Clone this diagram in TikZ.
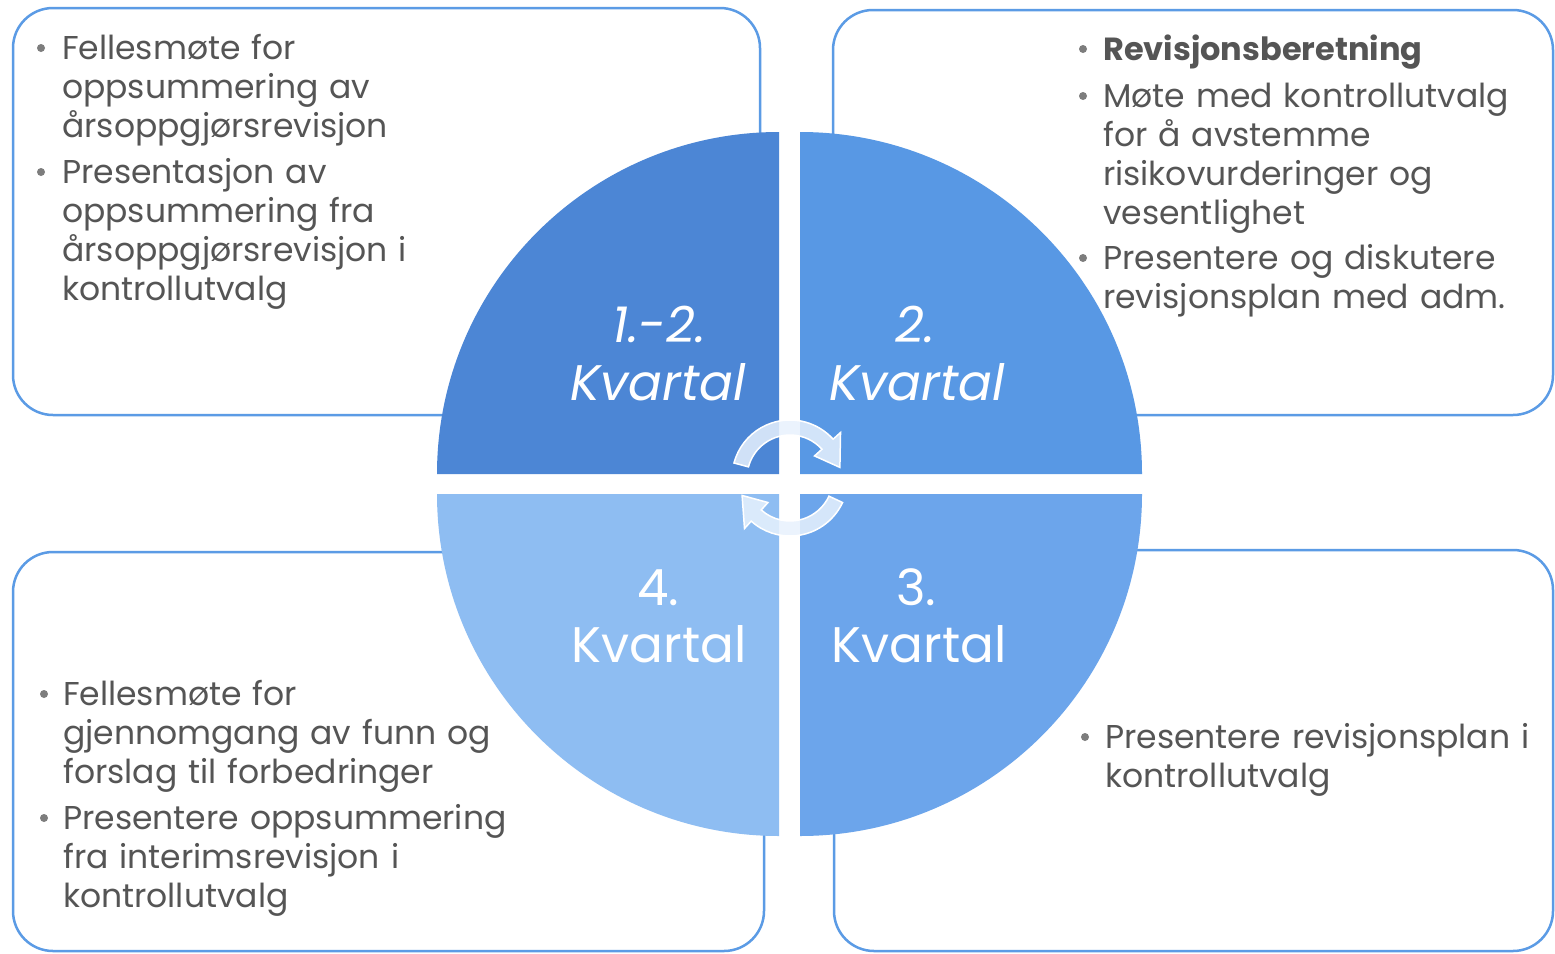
\documentclass[tikz,border=0pt]{standalone}
\usepackage{fontspec}
\setmainfont{Poppins}
\usetikzlibrary{calc}
\definecolor{boxline}{RGB}{91,155,229}
\definecolor{qTL}{RGB}{76,134,213}
\definecolor{qTR}{RGB}{88,152,228}
\definecolor{qBR}{RGB}{108,165,235}
\definecolor{qBL}{RGB}{142,189,242}
\definecolor{txt}{RGB}{85,85,85}
\definecolor{bul}{RGB}{125,125,125}
\definecolor{arrowfill}{RGB}{232,242,253}
\begin{document}
\begin{tikzpicture}[x=1pt,y=-1pt,
  infobox/.style={draw=boxline, line width=2.5pt, rounded corners=40pt},
  itemtext/.style={anchor=north west, inner sep=0pt, text width=#1, align=left, text=txt, font=\fontsize{33}{39}\selectfont},
  bdot/.style={circle, fill=bul, inner sep=0pt, minimum size=8pt},
  qlabel/.style={anchor=base, inner sep=0pt, text=white, font=\fontsize{50}{56}\selectfont},
  cyc/.style={fill=arrowfill, fill opacity=0.85, draw=white, line width=1.5pt}
]
\useasboundingbox[fill=white] (0,0) rectangle (1555,953);

% boxes
\draw[infobox] (13,8) rectangle (760,415);
\draw[infobox] (833,10) rectangle (1553,415);
\draw[infobox] (13,552) rectangle (764,951);
\draw[infobox] (834,550) rectangle (1553,951);

% quadrants
\fill[qTL] (779,474) -- (437,474) arc[start angle=180, end angle=270, radius=342] -- cycle;
\fill[qTR] (800,474) -- (800,132) arc[start angle=270, end angle=360, radius=342] -- cycle;
\fill[qBR] (800,494) -- (1142,494) arc[start angle=0, end angle=90, radius=342] -- cycle;
\fill[qBL] (779,494) -- (779,836) arc[start angle=90, end angle=180, radius=342] -- cycle;

% cycle arrows
\coordinate (cc) at (790,478);
\filldraw[cyc] ($(cc)+(-165:58)$) arc[start angle=-165, end angle=-42, radius=58]
  -- ($(cc)+(-42:68)$) -- ($(cc)+(-12:51)$) -- ($(cc)+(-42:33)$) -- ($(cc)+(-42:43)$)
  arc[start angle=-42, end angle=-165, radius=43] -- cycle;
\filldraw[cyc] ($(cc)+(25:58)$) arc[start angle=25, end angle=132, radius=58]
  -- ($(cc)+(132:68)$) -- ($(cc)+(160:51)$) -- ($(cc)+(132:33)$) -- ($(cc)+(132:43)$)
  arc[start angle=132, end angle=25, radius=43] -- cycle;

% quadrant labels
\node[qlabel] (l1a) at (659,342) {\itshape 1.-2.};
\node[qlabel] (l1b) at (658,400) {\itshape Kvartal};
\node[qlabel] (l2a) at (915,342) {\itshape 2.};
\node[qlabel] (l2b) at (917,400) {\itshape Kvartal};
\node[qlabel] (l4a) at (658,605) {4.};
\node[qlabel] (l4b) at (659,662) {Kvartal};
\node[qlabel] (l3a) at (916,605) {3.};
\node[qlabel] (l3b) at (919,662) {Kvartal};

% top-left texts
\node[bdot] (b1) at (41,48) {};
\node[itemtext=400pt] (t1) at (62,31.7) {\strut Fellesmøte for\\oppsummering av\\årsoppgjørsrevisjon};
\node[bdot] (b2) at (41,172) {};
\node[itemtext=400pt] (t2) at (62,155.7) {\strut Presentasjon av\\oppsummering fra\\årsoppgjørsrevisjon i\\kontrollutvalg};

% top-right texts
\node[bdot] (b3) at (1083,49) {};
\node[itemtext=445pt] (t3) at (1103,32.7) {\fontsize{32}{39}\selectfont\strut\bfseries Revisjonsberetning};
\node[bdot] (b4) at (1083,96) {};
\node[itemtext=445pt] (t4) at (1103,79.7) {\strut Møte med kontrollutvalg\\for å avstemme\\risikovurderinger og\\vesentlighet};
\node[bdot] (b5) at (1083,258) {};
\node[itemtext=445pt] (t5) at (1103,241.7) {\strut Presentere og diskutere\\revisjonsplan med adm.};

% bottom-right text
\node[bdot] (b6) at (1085,737) {};
\node[itemtext=445pt] (t6) at (1105,720.7) {\strut Presentere revisjonsplan i\\kontrollutvalg};

% bottom-left texts
\node[bdot] (b7) at (44,694) {};
\node[itemtext=480pt] (t7) at (63,677.7) {\strut Fellesmøte for\\gjennomgang av funn og\\forslag til forbedringer};
\node[bdot] (b8) at (44,818) {};
\node[itemtext=480pt] (t8) at (63,801.7) {\strut Presentere oppsummering\\fra interimsrevisjon i\\kontrollutvalg};
\end{tikzpicture}
\end{document}
